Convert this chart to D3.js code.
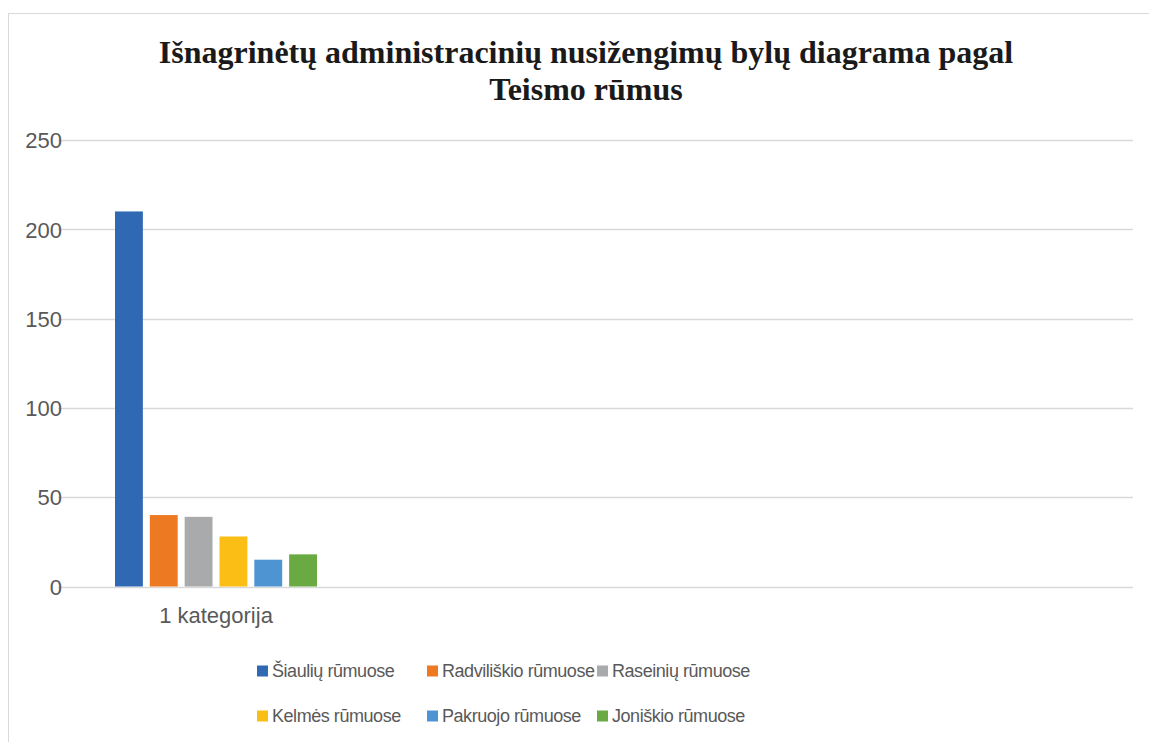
<!DOCTYPE html>
<html lang="lt">
<head>
<meta charset="UTF-8">
<title>Išnagrinėtų administracinių nusižengimų bylų diagrama</title>
<script src="https://d3js.org/d3.v7.min.js"></script>
<style>
    body { margin: 0; background: #fff; }
    svg { display: block; }
    .tick text { fill: #595959; font-family: "Liberation Sans", sans-serif; font-size: 22px; }
    .legend text { fill: #595959; font-family: "Liberation Sans", sans-serif; font-size: 18px; letter-spacing: -0.45px; }
</style>
</head>
<body>
<div id="chart"></div>
<script>
    // chart data
    const categories = ["1 kategorija"];
    const series = ["Šiaulių rūmuose", "Radviliškio rūmuose", "Raseinių rūmuose",
                    "Kelmės rūmuose", "Pakruojo rūmuose", "Joniškio rūmuose"];
    const values = [210, 40, 39, 28, 15, 18];
    const colors = ["#2f69b3", "#ed7a23", "#a9aaac", "#fbbe14", "#4e94d3", "#69aa43"];
    const yTicks = [0, 50, 100, 150, 200, 250];
    const titleLines = ["Išnagrinėtų administracinių nusižengimų bylų diagrama pagal", "Teismo rūmus"];

    const width = 1149, height = 742;
    const plot = { left: 58, right: 1133, top: 140, bottom: 586.5 };

    const svg = d3.select("#chart").append("svg")
        .attr("width", width)
        .attr("height", height);

    // chart frame
    svg.append("rect")
        .attr("x", 8.5).attr("y", 13.5)
        .attr("width", 1160).attr("height", 760)
        .attr("fill", "#fff")
        .attr("stroke", "#d9d9d9");

    // title
    svg.append("text")
        .attr("x", 586).attr("y", 63)
        .attr("text-anchor", "middle")
        .style("font-family", "'Liberation Serif', 'Times New Roman', serif")
        .style("font-weight", "bold")
        .style("font-size", "32px")
        .style("fill", "#1a1a1a")
        .selectAll("tspan")
        .data(titleLines)
        .enter().append("tspan")
        .attr("x", 586)
        .attr("dy", (d, i) => i === 0 ? 0 : 37)
        .text(d => d);

    const y = d3.scaleLinear().domain([0, 250]).range([plot.bottom, plot.top]);

    // category band (one category occupies this slot)
    const x0 = d3.scaleBand().domain(categories).range([plot.left, plot.left + 316]);
    const x1 = d3.scaleBand().domain(series)
        .range([57, x0.bandwidth() - 57])
        .paddingInner(0.2).paddingOuter(0);

    // gridlines
    svg.append("g")
        .selectAll("line")
        .data(yTicks)
        .enter().append("line")
        .attr("x1", plot.left).attr("x2", plot.right)
        .attr("y1", d => Math.round(y(d)) + 0.5)
        .attr("y2", d => Math.round(y(d)) + 0.5)
        .attr("stroke", "#d9d9d9")
        .attr("stroke-width", 1.5);

    // y axis labels
    const yAxis = svg.append("g")
        .attr("transform", `translate(${plot.left + 4},0)`)
        .call(d3.axisLeft(y).tickValues(yTicks).tickSize(0).tickPadding(0));
    yAxis.select(".domain").remove();
    yAxis.selectAll(".tick text").attr("dy", "0.35em");

    // bars
    const groups = svg.append("g")
        .selectAll("g")
        .data(categories)
        .enter().append("g")
        .attr("transform", d => `translate(${x0(d)},0)`);

    groups.selectAll("rect")
        .data(() => series.map((s, i) => ({ s, v: values[i], c: colors[i] })))
        .enter().append("rect")
        .attr("x", d => x1(d.s))
        .attr("width", x1.bandwidth())
        .attr("y", d => y(d.v))
        .attr("height", d => y(0) - y(d.v))
        .attr("fill", d => d.c);

    // x axis label
    const xAxis = svg.append("g")
        .attr("transform", `translate(0,${plot.bottom + 21})`)
        .call(d3.axisBottom(x0).tickSize(0).tickPadding(0));
    xAxis.select(".domain").remove();
    xAxis.selectAll(".tick text").attr("dy", "0.71em");

    // legend
    const legend = svg.append("g").attr("class", "legend");
    const item = legend.selectAll("g")
        .data(series)
        .enter().append("g")
        .attr("transform", (d, i) => `translate(${257 + (i % 3) * 170},${671 + Math.floor(i / 3) * 45})`);
    item.append("rect")
        .attr("x", 0).attr("y", -5.5)
        .attr("width", 11).attr("height", 11)
        .attr("fill", (d, i) => colors[i]);
    item.append("text")
        .attr("x", 15).attr("dy", "0.35em")
        .text(d => d);
</script>
</body>
</html>
